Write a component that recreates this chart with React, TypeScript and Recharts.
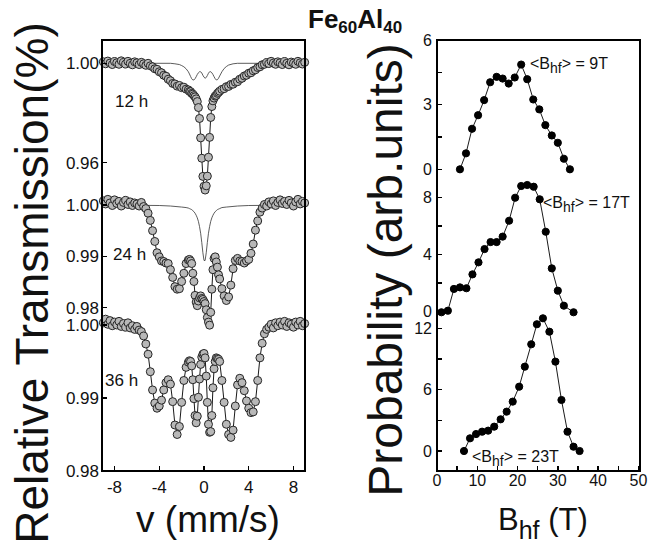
import { ComposedChart, Line, XAxis, YAxis } from "recharts";

const FONT = "'Liberation Sans', Arial, Helvetica, sans-serif";
const W = 650;
const H = 546;

/** Velocity channels (mm/s) shared by the three spectra. */
const velocity = [
  -9.0, -8.8, -8.6, -8.4, -8.2, -8.0, -7.8, -7.6, -7.4, -7.2,
  -7.0, -6.8, -6.6, -6.4, -6.2, -6.0, -5.8, -5.6, -5.4, -5.2,
  -5.0, -4.8, -4.6, -4.4, -4.2, -4.0, -3.8, -3.6, -3.4, -3.2,
  -3.0, -2.8, -2.6, -2.4, -2.2, -2.0, -1.8, -1.6, -1.4,
  -1.3, -1.2, -1.1, -1.0, -0.9, -0.8, -0.7, -0.6, -0.5, -0.4, -0.3, -0.2, -0.1, 0,
  0.1, 0.2, 0.3, 0.4, 0.5, 0.6, 0.7, 0.8, 0.9, 1.0, 1.1, 1.2, 1.3,
  1.4, 1.6, 1.8, 2.0, 2.2, 2.4, 2.6, 2.8, 3.0, 3.2,
  3.4, 3.6, 3.8, 4.0, 4.2, 4.4, 4.6, 4.8, 5.0, 5.2,
  5.4, 5.6, 5.8, 6.0, 6.2, 6.4, 6.6, 6.8, 7.0, 7.2,
  7.4, 7.6, 7.8, 8.0, 8.2, 8.4, 8.6, 8.8, 9.0,
];

const trans12h = [
  1.0006, 0.9998, 1.0009, 1.0001, 0.9995, 1.0007, 1.0002, 0.9996, 1.001, 1.0003,
  0.9997, 1.0008, 1.0, 0.9994, 1.0006, 1.0002, 0.9995, 1.0004, 0.9998, 0.9992,
  1.0, 0.999, 0.9986, 0.9978, 0.9976, 0.9966, 0.9962, 0.9952, 0.9948, 0.9936,
  0.993, 0.9919, 0.9917, 0.9908, 0.9911, 0.9902, 0.9904, 0.9896, 0.9893,
  0.9887, 0.9886, 0.9879, 0.9876, 0.987, 0.9865, 0.9857, 0.9846, 0.9822, 0.9778, 0.97, 0.9618, 0.9545, 0.9505,
  0.949, 0.9507, 0.9546, 0.9622, 0.9702, 0.9782, 0.9826, 0.9849, 0.986, 0.9868, 0.9871, 0.9879, 0.9883,
  0.9888, 0.9895, 0.9898, 0.9906, 0.9907, 0.9915, 0.9916, 0.9924, 0.9926, 0.9936,
  0.994, 0.9949, 0.9952, 0.996, 0.9962, 0.997, 0.9974, 0.9983, 0.9986, 0.9994,
  0.9996, 1.0003, 0.9999, 1.0008, 1.0001, 0.9996, 1.0006, 1.0002, 0.9995, 1.0007,
  1.0, 0.9994, 1.0005, 1.0001, 0.9996, 1.0008, 1.0002, 0.9997, 1.0004,
];

const trans24h = [
  1.0008, 1.0002, 1.0011, 1.0004, 0.9999, 1.001, 1.0003, 1.0007, 0.9998, 1.0005,
  1.0009, 1.0001, 1.0006, 0.9999, 1.0004, 1.0002, 0.9998, 1.0005, 0.9997, 0.9993,
  0.9984, 0.997, 0.995, 0.9929, 0.9907, 0.9899, 0.9891, 0.989, 0.9887, 0.9886,
  0.9874, 0.9859, 0.9841, 0.9836, 0.9837, 0.9851, 0.9867, 0.9886, 0.9893,
  0.9894, 0.9891, 0.9886, 0.9867, 0.9851, 0.9824, 0.9811, 0.9804, 0.9813, 0.9819, 0.9823, 0.9818, 0.9816, 0.9812,
  0.9808, 0.9796, 0.9781, 0.9772, 0.9766, 0.9791, 0.9836, 0.9874, 0.9896, 0.9899, 0.9889, 0.9879, 0.9864,
  0.9856, 0.9837, 0.9823, 0.9814, 0.9821, 0.9844, 0.9876, 0.9892, 0.9896, 0.9891,
  0.989, 0.9887, 0.9891, 0.9894, 0.9906, 0.9924, 0.9951, 0.9969, 0.9986, 0.9994,
  1.0001, 0.9998, 1.0006, 1.0002, 1.0008, 0.9999, 1.0005, 1.001, 1.0003, 1.0007,
  1.0001, 1.0009, 1.0004, 0.9998, 1.0006, 1.0011, 1.0002, 1.0007, 1.0004,
];

const trans36h = [
  1.0003, 1.0008, 1.0001, 1.0006, 0.9999, 1.0004, 1.0, 1.0005, 0.9998, 1.0002,
  0.9997, 1.0003, 0.9996, 0.9999, 0.9994, 0.9998, 0.9993, 0.9991, 0.9985, 0.9974,
  0.996, 0.9936, 0.9911, 0.9893, 0.9886, 0.9889, 0.9897, 0.9911, 0.9921, 0.9925,
  0.9919, 0.9895, 0.9863, 0.985, 0.9861, 0.9894, 0.9924, 0.9942, 0.9949,
  0.9951, 0.995, 0.9944, 0.9925, 0.9899, 0.9876, 0.9866, 0.9875, 0.9901, 0.9926, 0.9946, 0.9956, 0.996, 0.9961,
  0.9955, 0.993, 0.9894, 0.9864, 0.9853, 0.9854, 0.9876, 0.9914, 0.994, 0.995, 0.9955, 0.9954, 0.9953,
  0.995, 0.9924, 0.9894, 0.9864, 0.985, 0.9846, 0.9856, 0.9889, 0.9918, 0.9927,
  0.9921, 0.991, 0.9896, 0.9886, 0.988, 0.9881, 0.9895, 0.9924, 0.9955, 0.9975,
  0.9988, 0.9994, 0.9997, 1.0001, 0.9996, 1.0003, 0.9999, 1.0004, 1.0, 1.0005,
  0.9998, 1.0003, 1.0001, 0.9997, 1.0004, 1.0, 1.0005, 0.9999, 1.0002,
];

/** Thin sub-spectrum curves drawn over the 12 h and 24 h data. */
const sub12hV = [
  -9.12, -3.0, -2.6, -2.2, -2.0, -1.8, -1.6, -1.4,
  -1.3, -1.2, -1.1, -1.0, -0.9, -0.8, -0.7, -0.6, -0.5, -0.4, -0.3, -0.2, -0.1, 0,
  0.1, 0.2, 0.3, 0.4, 0.5, 0.6, 0.7, 0.8, 0.9, 1.0, 1.1, 1.2, 1.3,
  1.4, 1.6, 1.8, 2.0, 2.2, 2.6, 3.0, 9.03,
];
const sub12h = [
  1.0, 1.0, 0.9998, 0.9995, 0.9991, 0.9986, 0.9978, 0.9966,
  0.9957, 0.9947, 0.9938, 0.9933, 0.9933, 0.9938, 0.9946, 0.9955, 0.9962, 0.9966, 0.9966, 0.9961, 0.9952, 0.9944,
  0.994, 0.9943, 0.9951, 0.996, 0.9966, 0.9966, 0.9962, 0.9955, 0.9946, 0.9938, 0.9933, 0.9934, 0.994,
  0.9949, 0.9966, 0.9979, 0.9987, 0.9993, 0.9998, 1.0, 1.0,
];
const sub24hV = [
  -9.12, -4.0, -3.0, -2.0, -1.6, -1.4,
  -1.3, -1.2, -1.1, -1.0, -0.9, -0.8, -0.7, -0.6, -0.5, -0.4, -0.3, -0.2, -0.1, 0,
  0.1, 0.2, 0.3, 0.4, 0.5, 0.6, 0.7, 0.8, 0.9, 1.0, 1.1, 1.2, 1.3,
  1.4, 1.6, 2.0, 3.0, 4.0, 9.03,
];
const sub24h = [
  1.0, 0.9999, 0.9998, 0.9996, 0.9995, 0.9994,
  0.9993, 0.9992, 0.9991, 0.9989, 0.9987, 0.9984, 0.998, 0.9975, 0.9968, 0.9958, 0.9945, 0.9927, 0.9907, 0.9892,
  0.9892, 0.9907, 0.9927, 0.9945, 0.9958, 0.9968, 0.9975, 0.998, 0.9984, 0.9987, 0.9989, 0.9991, 0.9992,
  0.9993, 0.9995, 0.9996, 0.9998, 0.9999, 1.0,
];

/** Hyperfine field distributions. */
const bhf9T = [5.7, 7.2, 8.7, 10.2, 11.7, 13.2, 14.8, 16.3, 17.8, 19.3, 20.9, 22.4, 23.9, 25.4, 26.9, 28.5, 30.0, 31.5, 33.0];
const prob9T = [0.0, 0.74, 1.88, 2.51, 3.21, 4.04, 4.29, 4.21, 3.98, 4.26, 4.86, 4.18, 3.24, 2.78, 2.05, 1.57, 1.23, 0.49, 0.0];
const bhf17T = [1.1, 2.7, 4.2, 5.7, 7.3, 8.8, 10.3, 11.8, 13.3, 14.8, 16.3, 17.9, 19.4, 20.9, 22.4, 24.0, 25.5, 27.0, 28.5, 30.0, 31.5, 33.9];
const prob17T = [-0.04, 0.07, 1.59, 1.7, 1.64, 2.61, 3.45, 4.38, 4.87, 4.87, 5.25, 6.36, 7.97, 8.79, 8.86, 8.74, 7.86, 5.59, 3.03, 1.47, 0.42, -0.04];
const bhf23T = [6.7, 8.2, 9.7, 11.2, 12.7, 14.2, 15.8, 17.3, 18.8, 20.4, 21.8, 23.4, 24.8, 26.3, 27.9, 29.4, 30.9, 32.4, 33.9, 35.4];
const prob23T = [0.0, 1.24, 1.66, 1.89, 1.99, 2.38, 3.1, 3.85, 4.83, 6.29, 8.25, 10.44, 12.4, 12.98, 11.67, 8.74, 4.99, 1.89, 0.42, 0.0];

const velTicks = [-8, -4, 0, 4, 8];
const velTopTicks = [-9, -8, -7, -6, -5, -4, -3, -2, -1, 0, 1, 2, 3, 4, 5, 6, 7, 8, 9];
const bhfTicks = [0, 5, 10, 15, 20, 25, 30, 35, 40, 45, 50];

type Pt = { x: number; y: number };
const zip = (xs: number[], ys: number[]): Pt[] => xs.map((x, i) => ({ x, y: ys[i] }));

type Box = { left: number; right: number; top: number; bottom: number };
type Fmt = (v: number) => string;
type XCfg = { domain: [number, number]; ticks: number[]; top: number[]; fmt: Fmt; gap: number };
type Band = { domain: [number, number]; ticks: number[]; fmt: Fmt; points: Pt[]; sub?: Pt[] };

const LEFT_BOX: Box = { left: 102, right: 305, top: 40, bottom: 471 };
const RIGHT_BOX: Box = { left: 437, right: 640, top: 40, bottom: 471 };

const velX: XCfg = { domain: [-9.12, 9.03], ticks: velTicks, top: velTopTicks, fmt: (v) => String(v), gap: 10 };
const bhfX: XCfg = {
  domain: [0, 50.4],
  ticks: bhfTicks,
  top: bhfTicks,
  fmt: (v) => (v % 10 === 0 ? String(v) : ""),
  gap: 4,
};

const INK = "#000";
const GREY_DOT = { r: 4, fill: "#b8b8b8", stroke: "#262626", strokeWidth: 1 };
const BLACK_DOT = { r: 3.6, fill: "#000", stroke: "#000", strokeWidth: 1 };
const MARK = 5;
const RULE = { stroke: INK, strokeWidth: 1.5, shapeRendering: "crispEdges" as const };

/* Tick renderers: with tickSize/tickMargin at 0 Recharts hands us the point on the axis,
   so the short inward mark and the label are drawn from there. */
const leftTick = (fmt: Fmt, gap: number, fontSize: number) => (p: any) => (
  <g>
    <line x1={p.x} y1={p.y} x2={p.x + MARK} y2={p.y} {...RULE} />
    <text x={p.x - gap} y={p.y} dy="0.35em" textAnchor="end" fontSize={fontSize} fontFamily={FONT} fill="#111">
      {fmt(p.payload.value)}
    </text>
  </g>
);
const bottomTick = (fmt: Fmt, gap: number, fontSize: number) => (p: any) => (
  <g>
    <line x1={p.x} y1={p.y} x2={p.x} y2={p.y - MARK} {...RULE} />
    <text x={p.x} y={p.y + gap} dy="0.71em" textAnchor="middle" fontSize={fontSize} fontFamily={FONT} fill="#111">
      {fmt(p.payload.value)}
    </text>
  </g>
);
const rightTick = (p: any) => <line x1={p.x} y1={p.y} x2={p.x - MARK} y2={p.y} {...RULE} />;
const topTick = (p: any) => <line x1={p.x} y1={p.y} x2={p.x} y2={p.y + MARK} {...RULE} />;

function Layer({ box, x, band, frame, dot, labelGap, fontSize }: {
  box: Box; x: XCfg; band: Band; frame: boolean; dot: object; labelGap: number; fontSize: number;
}) {
  const yW = 40;
  const rW = 8;
  const xH = 30;
  const tH = 8;
  const margin = {
    top: box.top - (frame ? tH : 0),
    bottom: H - box.bottom - (frame ? xH : 0),
    left: box.left - yW,
    right: W - box.right - rW,
  };
  const bare = { axisLine: false, tickLine: false, tickSize: 0, tickMargin: 0, interval: 0 as const };
  const [x0, x1] = x.domain;
  const [y0, y1] = band.domain;
  // closed outline of the plotting box, taken from the axis domains
  const outline: Pt[] = [
    { x: x0, y: y0 },
    { x: x0, y: y1 },
    { x: x1, y: y1 },
    { x: x1, y: y0 },
    { x: x0, y: y0 },
  ];
  return (
    <div style={{ position: "absolute", left: 0, top: 0, pointerEvents: "none" }}>
      <ComposedChart width={W} height={H} margin={margin}>
        <XAxis
          xAxisId="b"
          type="number"
          dataKey="x"
          domain={x.domain}
          hide={!frame}
          height={xH}
          ticks={x.ticks}
          tick={bottomTick(x.fmt, x.gap, fontSize)}
          {...bare}
        />
        {frame && (
          <XAxis xAxisId="t" orientation="top" type="number" dataKey="x" domain={x.domain} height={tH}
            ticks={x.top} tick={topTick} {...bare} />
        )}
        <YAxis
          yAxisId="l"
          type="number"
          dataKey="y"
          domain={band.domain}
          width={yW}
          ticks={band.ticks}
          tick={leftTick(band.fmt, labelGap, fontSize)}
          {...bare}
        />
        <YAxis yAxisId="r" orientation="right" type="number" dataKey="y" domain={band.domain} width={rW}
          ticks={band.ticks} tick={rightTick} {...bare} />
        {frame && (
          <Line
            xAxisId="b"
            yAxisId="l"
            data={outline}
            dataKey="y"
            stroke={INK}
            strokeWidth={1.5}
            shapeRendering="crispEdges"
            dot={false}
            isAnimationActive={false}
          />
        )}
        <Line
          xAxisId="b"
          yAxisId="l"
          data={band.points}
          dataKey="y"
          type="linear"
          stroke="#1a1a1a"
          strokeWidth={1}
          dot={dot}
          isAnimationActive={false}
        />
        {band.sub && (
          <Line
            xAxisId="b"
            yAxisId="l"
            data={band.sub}
            dataKey="y"
            type="linear"
            stroke="#333"
            strokeWidth={0.8}
            dot={false}
            isAnimationActive={false}
          />
        )}
      </ComposedChart>
    </div>
  );
}

const fmt2: Fmt = (v) => v.toFixed(2);

// the framed band (with the x axes) comes last so nothing is stacked over its outline
const spectra: Band[] = [
  { domain: [0.83594, 1.00938], ticks: [0.96, 1.0], fmt: fmt2, points: zip(velocity, trans12h), sub: zip(sub12hV, sub12h) },
  { domain: [0.9482, 1.03213], ticks: [0.98, 0.99, 1.0], fmt: fmt2, points: zip(velocity, trans24h), sub: zip(sub24hV, sub24h) },
  { domain: [0.98, 1.03904], ticks: [0.98, 0.99, 1.0], fmt: fmt2, points: zip(velocity, trans36h) },
];

const distributions: Band[] = [
  { domain: [-14.0, 6], ticks: [0, 1.5, 3, 4.5, 6], fmt: (v) => (v % 3 === 0 ? String(v) : ""), points: zip(bhf9T, prob9T) },
  { domain: [-11.14, 19.0], ticks: [0, 2, 4, 6, 8], fmt: (v) => (v % 4 === 0 ? String(v) : ""), points: zip(bhf17T, prob17T) },
  { domain: [-1.956, 40.2], ticks: [0, 3, 6, 9, 12], fmt: (v) => (v % 6 === 0 ? String(v) : ""), points: zip(bhf23T, prob23T) },
];

function BhfNote({ x, y, value }: { x: number; y: number; value: string }) {
  return (
    <text x={x} y={y} fontSize={16}>
      {"<B"}
      <tspan fontSize={14} dy={4}>hf</tspan>
      <tspan dy={-4}>{`> = ${value}`}</tspan>
    </text>
  );
}

export default function App() {
  const last = 2;
  return (
    <div style={{ position: "absolute", left: 0, top: 0, width: W, height: H, background: "#fff", fontFamily: FONT }}>
      {spectra.map((band, i) => (
        <Layer key={`s${i}`} box={LEFT_BOX} x={velX} band={band} frame={i === last} dot={GREY_DOT} labelGap={3} fontSize={17} />
      ))}
      {distributions.map((band, i) => (
        <Layer key={`d${i}`} box={RIGHT_BOX} x={bhfX} band={band} frame={i === last} dot={BLACK_DOT} labelGap={5} fontSize={16} />
      ))}
      <svg width={W} height={H} style={{ position: "absolute", left: 0, top: 0 }} fontFamily={FONT} fill="#111">
        {[LEFT_BOX, RIGHT_BOX].map((b, i) => (
          <rect key={i} x={b.left} y={b.top} width={b.right - b.left} height={b.bottom - b.top}
            fill="none" {...RULE} />
        ))}
        <text x={308} y={28} fontSize={26} fontWeight="bold">
          Fe<tspan fontSize={17} dy={5}>60</tspan>
          <tspan dy={-5}>Al</tspan>
          <tspan fontSize={17} dy={5}>40</tspan>
        </text>
        <text transform="translate(48,283) rotate(-90)" textAnchor="middle" fontSize={46}>
          Relative Transmission(%)
        </text>
        <text transform="translate(402,270) rotate(-90)" textAnchor="middle" fontSize={48}>
          Probability (arb.units)
        </text>
        <text x={208} y={532} textAnchor="middle" fontSize={37}>
          v (mm/s)
        </text>
        <text x={498} y={530} fontSize={31}>
          B<tspan fontSize={25} dy={9}>hf</tspan>
          <tspan dy={-9}> (T)</tspan>
        </text>
        <text x={115} y={107} fontSize={17}>12 h</text>
        <text x={113} y={260} fontSize={17}>24 h</text>
        <text x={105} y={386} fontSize={17}>36 h</text>
        <BhfNote x={530} y={69} value="9T" />
        <BhfNote x={543} y={208} value="17T" />
        <BhfNote x={472} y={462} value="23T" />
      </svg>
    </div>
  );
}
